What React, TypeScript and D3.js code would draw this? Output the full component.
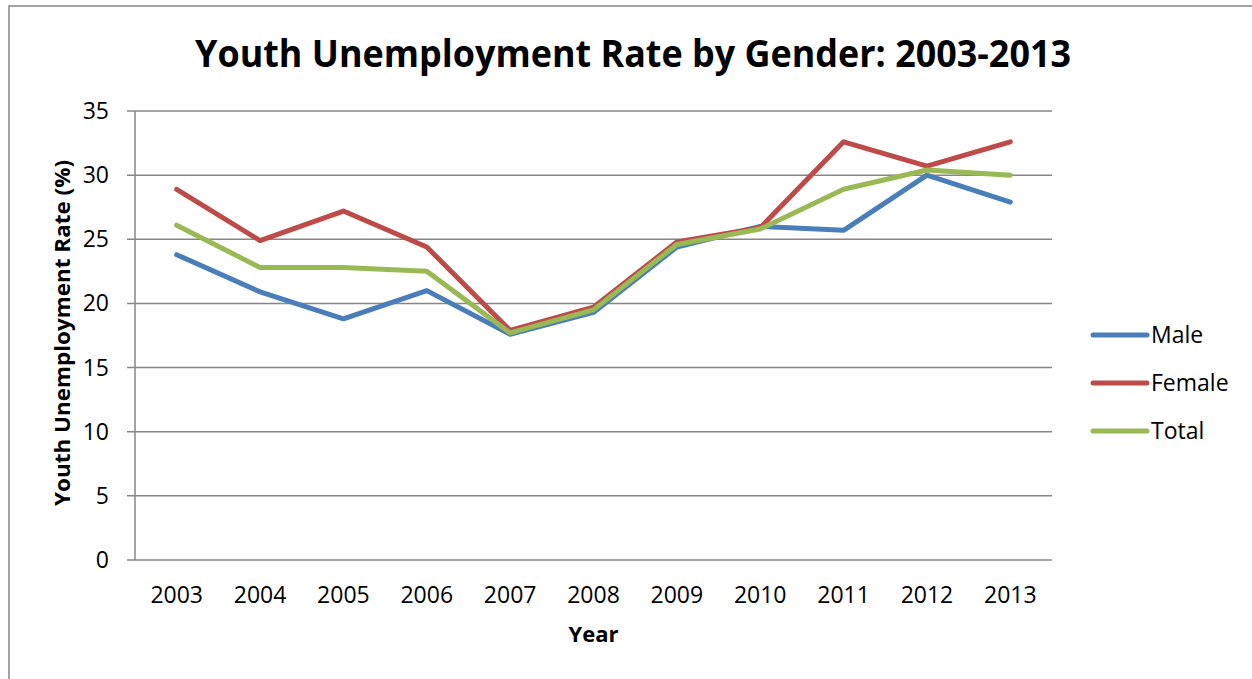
import { useEffect, useRef } from 'react'
import * as d3 from 'd3'

const years = ['2003', '2004', '2005', '2006', '2007', '2008', '2009', '2010', '2011', '2012', '2013']
const male = [23.8, 20.9, 18.8, 21.0, 17.6, 19.3, 24.4, 26.0, 25.7, 30.0, 27.9]
const female = [28.9, 24.9, 27.2, 24.4, 17.9, 19.7, 24.8, 25.9, 32.6, 30.7, 32.6]
const total = [26.1, 22.8, 22.8, 22.5, 17.7, 19.5, 24.6, 25.8, 28.9, 30.4, 30.0]
const yTicks = [0, 5, 10, 15, 20, 25, 30, 35]

const seriesNames = ['Male', 'Female', 'Total']
const seriesColors = ['#4A7EBB', '#BE4B48', '#98B954']

export default function App() {
    const svgRef = useRef<SVGSVGElement>(null);

    useEffect(() => {
        if (!svgRef.current) return;

        const svg = d3.select(svgRef.current);
        const width = 1252;
        const height = 679;
        const margin = { top: 111, right: 200, bottom: 119, left: 135 };
        const font = "'Open Sans', 'Noto Sans', sans-serif";

        svg.attr('width', width).attr('height', height);
        svg.selectAll('*').remove();

        // chart frame, cut off at right and bottom like the original
        svg.append('rect')
            .attr('x', 9)
            .attr('y', 6)
            .attr('width', width + 20)
            .attr('height', height + 20)
            .attr('fill', '#fff')
            .attr('stroke', '#868686')
            .attr('stroke-width', 1.5);

        const x = d3.scaleBand()
            .domain(years)
            .range([margin.left, width - margin.right]);
        const y = d3.scaleLinear()
            .domain([0, 35])
            .range([height - margin.bottom, margin.top]);

        // gridlines
        svg.append('g')
            .selectAll('line')
            .data(yTicks)
            .enter()
            .append('line')
            .attr('x1', margin.left - 8)
            .attr('x2', width - margin.right)
            .attr('y1', d => y(d))
            .attr('y2', d => y(d))
            .attr('stroke', '#868686')
            .attr('stroke-width', 1.5);

        svg.append('line')
            .attr('x1', margin.left)
            .attr('x2', margin.left)
            .attr('y1', y(35))
            .attr('y2', y(0))
            .attr('stroke', '#868686')
            .attr('stroke-width', 1.5);

        svg.append('g')
            .selectAll('text')
            .data(yTicks)
            .enter()
            .append('text')
            .attr('x', margin.left - 26)
            .attr('y', d => y(d) + 8)
            .attr('text-anchor', 'end')
            .attr('font-family', font)
            .attr('font-size', '23px')
            .attr('fill', '#000')
            .text(d => d);

        svg.append('g')
            .selectAll('text')
            .data(years)
            .enter()
            .append('text')
            .attr('x', d => (x(d) || 0) + x.bandwidth() / 2)
            .attr('y', height - margin.bottom + 43)
            .attr('text-anchor', 'middle')
            .attr('font-family', font)
            .attr('font-size', '23px')
            .attr('fill', '#000')
            .text(d => d);

        svg.append('text')
            .attr('x', 633)
            .attr('y', 67)
            .attr('text-anchor', 'middle')
            .attr('font-family', font)
            .attr('font-weight', 'bold')
            .attr('font-size', '37px')
            .attr('textLength', 876)
            .attr('lengthAdjust', 'spacingAndGlyphs')
            .attr('fill', '#000')
            .text('Youth Unemployment Rate by Gender: 2003-2013');

        svg.append('text')
            .attr('x', (margin.left + width - margin.right) / 2)
            .attr('y', 642)
            .attr('text-anchor', 'middle')
            .attr('font-family', font)
            .attr('font-weight', 'bold')
            .attr('font-size', '22px')
            .attr('fill', '#000')
            .text('Year');

        svg.append('text')
            .attr('transform', `translate(70, 333) rotate(-90)`)
            .attr('text-anchor', 'middle')
            .attr('font-family', font)
            .attr('font-weight', 'bold')
            .attr('font-size', '21px')
            .attr('textLength', 346)
            .attr('lengthAdjust', 'spacingAndGlyphs')
            .attr('fill', '#000')
            .text('Youth Unemployment Rate (%)');

        const line = d3.line<number>()
            .x((_, i) => (x(years[i]) || 0) + x.bandwidth() / 2)
            .y(d => y(d));

        const allSeries = [male, female, total];
        allSeries.forEach((values, i) => {
            svg.append('path')
                .datum(values)
                .attr('fill', 'none')
                .attr('stroke', seriesColors[i])
                .attr('stroke-width', 5)
                .attr('stroke-linecap', 'round')
                .attr('stroke-linejoin', 'round')
                .attr('d', line);
        });

        const legend = svg.append('g')
            .attr('transform', `translate(1093, 335)`);

        seriesNames.forEach((name, i) => {
            legend.append('line')
                .attr('x1', 0)
                .attr('x2', 54)
                .attr('y1', i * 48)
                .attr('y2', i * 48)
                .attr('stroke', seriesColors[i])
                .attr('stroke-width', 5)
                .attr('stroke-linecap', 'round');
            legend.append('text')
                .attr('x', 58)
                .attr('y', i * 48 + 8)
                .attr('font-family', font)
                .attr('font-size', '23px')
                .attr('fill', '#000')
                .text(name);
        });
    }, []);

    return <svg ref={svgRef} style={{ position: 'absolute', left: 0, top: 0, display: 'block' }} />;
}
